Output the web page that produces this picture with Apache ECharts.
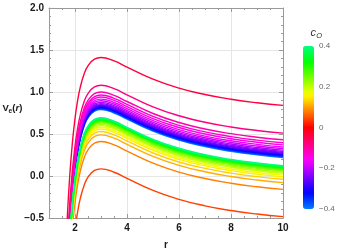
<!DOCTYPE html>
<html><head><meta charset="utf-8">
<script src="https://cdn.jsdelivr.net/npm/echarts@6/dist/echarts.min.js"></script>
<style>html,body{margin:0;padding:0;background:#fff}#c{width:339px;height:252px}</style>
</head><body><div id="c"></div>
<script>
// radial coordinate samples
const rValues = [1.6,1.7,1.8,1.9,2.0,2.1,2.2,2.35,2.5,2.75,3.0,3.5,4,5,6,7,8,9,10];
// c_O of each curve
const cValues = [-0.40,-0.37,-0.35,-0.33,-0.31,-0.29,-0.27,-0.25,-0.23,-0.21,-0.19,-0.17,-0.15,-0.13,-0.11,-0.08,-0.04,
                  0.04, 0.08, 0.11, 0.13, 0.15, 0.17, 0.19, 0.21, 0.23, 0.25, 0.27, 0.29, 0.31, 0.33, 0.35, 0.37, 0.40];
// V_e(r) (same order as cValues)
const vCurves = [
 [-1.850,-1.133,-0.608,-0.222,0.064,0.276,0.432,0.593,0.691,0.771,0.790,0.750,0.677,0.534,0.427,0.350,0.294,0.252,0.221],
 [-1.842,-1.125,-0.600,-0.214,0.072,0.284,0.440,0.601,0.699,0.779,0.798,0.758,0.685,0.542,0.435,0.358,0.302,0.260,0.229],
 [-1.834,-1.117,-0.592,-0.206,0.080,0.292,0.448,0.609,0.707,0.787,0.806,0.766,0.693,0.550,0.443,0.366,0.310,0.268,0.237],
 [-1.826,-1.109,-0.584,-0.198,0.088,0.300,0.456,0.617,0.715,0.795,0.814,0.774,0.701,0.558,0.451,0.374,0.318,0.276,0.245],
 [-1.818,-1.101,-0.576,-0.190,0.096,0.308,0.464,0.625,0.723,0.803,0.822,0.782,0.709,0.566,0.459,0.382,0.326,0.284,0.253],
 [-1.810,-1.093,-0.568,-0.182,0.104,0.316,0.472,0.633,0.731,0.811,0.830,0.790,0.717,0.574,0.467,0.390,0.334,0.292,0.261],
 [-1.800,-1.083,-0.558,-0.172,0.114,0.326,0.482,0.643,0.741,0.821,0.840,0.800,0.727,0.584,0.477,0.400,0.344,0.302,0.271],
 [-1.790,-1.073,-0.548,-0.162,0.124,0.336,0.492,0.653,0.751,0.831,0.850,0.810,0.737,0.594,0.487,0.410,0.354,0.312,0.281],
 [-1.778,-1.061,-0.536,-0.150,0.136,0.348,0.504,0.665,0.763,0.843,0.862,0.822,0.749,0.606,0.499,0.422,0.366,0.324,0.293],
 [-1.763,-1.046,-0.521,-0.135,0.151,0.363,0.519,0.680,0.778,0.858,0.877,0.837,0.764,0.621,0.514,0.437,0.381,0.339,0.308],
 [-1.745,-1.028,-0.503,-0.117,0.169,0.381,0.537,0.698,0.796,0.876,0.895,0.855,0.782,0.639,0.532,0.455,0.399,0.357,0.326],
 [-1.725,-1.008,-0.483,-0.097,0.189,0.401,0.557,0.718,0.816,0.896,0.915,0.875,0.802,0.659,0.552,0.475,0.419,0.377,0.346],
 [-1.700,-0.983,-0.458,-0.072,0.214,0.426,0.582,0.743,0.841,0.921,0.940,0.900,0.827,0.684,0.577,0.500,0.444,0.402,0.371],
 [-1.675,-0.958,-0.433,-0.047,0.239,0.451,0.607,0.768,0.866,0.946,0.965,0.925,0.852,0.709,0.602,0.525,0.469,0.427,0.396],
 [-1.640,-0.923,-0.398,-0.012,0.274,0.486,0.642,0.803,0.901,0.981,1.000,0.960,0.887,0.744,0.637,0.560,0.504,0.462,0.431],
 [-1.560,-0.843,-0.318,0.068,0.354,0.566,0.722,0.883,0.981,1.061,1.080,1.040,0.967,0.824,0.717,0.640,0.584,0.542,0.511],
 [-1.230,-0.513,0.012,0.398,0.684,0.896,1.052,1.213,1.311,1.391,1.410,1.370,1.297,1.154,1.047,0.970,0.914,0.872,0.841],
 [-2.555,-1.838,-1.313,-0.927,-0.641,-0.429,-0.273,-0.112,-0.014,0.066,0.085,0.045,-0.028,-0.171,-0.278,-0.355,-0.411,-0.453,-0.484],
 [-2.230,-1.513,-0.988,-0.602,-0.316,-0.104,0.052,0.213,0.311,0.391,0.410,0.370,0.297,0.154,0.047,-0.030,-0.086,-0.128,-0.159],
 [-2.150,-1.433,-0.908,-0.522,-0.236,-0.024,0.132,0.293,0.391,0.471,0.490,0.450,0.377,0.234,0.127,0.050,-0.006,-0.048,-0.079],
 [-2.110,-1.393,-0.868,-0.482,-0.196,0.016,0.172,0.333,0.431,0.511,0.530,0.490,0.417,0.274,0.167,0.090,0.034,-0.008,-0.039],
 [-2.080,-1.363,-0.838,-0.452,-0.166,0.046,0.202,0.363,0.461,0.541,0.560,0.520,0.447,0.304,0.197,0.120,0.064,0.022,-0.009],
 [-2.060,-1.343,-0.818,-0.432,-0.146,0.066,0.222,0.383,0.481,0.561,0.580,0.540,0.467,0.324,0.217,0.140,0.084,0.042,0.011],
 [-2.040,-1.323,-0.798,-0.412,-0.126,0.086,0.242,0.403,0.501,0.581,0.600,0.560,0.487,0.344,0.237,0.160,0.104,0.062,0.031],
 [-2.025,-1.308,-0.783,-0.397,-0.111,0.101,0.257,0.418,0.516,0.596,0.615,0.575,0.502,0.359,0.252,0.175,0.119,0.077,0.046],
 [-2.010,-1.293,-0.768,-0.382,-0.096,0.116,0.272,0.433,0.531,0.611,0.630,0.590,0.517,0.374,0.267,0.190,0.134,0.092,0.061],
 [-1.998,-1.281,-0.756,-0.370,-0.084,0.128,0.284,0.445,0.543,0.623,0.642,0.602,0.529,0.386,0.279,0.202,0.146,0.104,0.073],
 [-1.988,-1.271,-0.746,-0.360,-0.074,0.138,0.294,0.455,0.553,0.633,0.652,0.612,0.539,0.396,0.289,0.212,0.156,0.114,0.083],
 [-1.979,-1.262,-0.737,-0.351,-0.065,0.147,0.303,0.464,0.562,0.642,0.661,0.621,0.548,0.405,0.298,0.221,0.165,0.123,0.092],
 [-1.971,-1.254,-0.729,-0.343,-0.057,0.155,0.311,0.472,0.570,0.650,0.669,0.629,0.556,0.413,0.306,0.229,0.173,0.131,0.100],
 [-1.964,-1.247,-0.722,-0.336,-0.050,0.162,0.318,0.479,0.577,0.657,0.676,0.636,0.563,0.420,0.313,0.236,0.180,0.138,0.107],
 [-1.958,-1.241,-0.716,-0.330,-0.044,0.168,0.324,0.485,0.583,0.663,0.682,0.642,0.569,0.426,0.319,0.242,0.186,0.144,0.113],
 [-1.953,-1.236,-0.711,-0.325,-0.039,0.173,0.329,0.490,0.588,0.668,0.687,0.647,0.574,0.431,0.324,0.247,0.191,0.149,0.118],
 [-1.947,-1.230,-0.705,-0.319,-0.033,0.179,0.335,0.496,0.594,0.674,0.693,0.653,0.580,0.437,0.330,0.253,0.197,0.155,0.124]
];
const xTickLabels = [2,4,6,8,10];
const yTickLabels = [-0.5,0,0.5,1,1.5,2];
const cbarTickLabels = [-0.4,-0.2,0,0.2,0.4];

const FONT = 'Liberation Sans';
function hueColor(c){
  const h = ((c*375)%360+360)%360;
  const f = n => { const k=(n+h/60)%6; return Math.round(255*(1-Math.max(0,Math.min(k,4-k,1)))); };
  return 'rgb('+f(5)+','+f(3)+','+f(1)+')';
}
const cmap = [];
for (let i=0;i<=32;i++) cmap.push(hueColor(-0.4+0.8*i/32));
const fmtMinus = v => { const s = (Math.abs(v)<1e-9)?'0':String(+v.toFixed(2)); return s.replace('-','\u2212'); };
const frame = '#9a9a9a';

const series = cValues.map((c,i)=>({
  type:'line', xAxisIndex:0, yAxisIndex:0, showSymbol:false, smooth:0.5, silent:true,
  clip:true, data: rValues.map((r,j)=>[r, vCurves[i][j]]),
  lineStyle:{color:hueColor(c), width:1.4}, itemStyle:{color:hueColor(c)}, z:3
}));
series.push({type:'scatter', xAxisIndex:4, yAxisIndex:2, data:[], silent:true});

const chart = echarts.init(document.getElementById('c'), null, {renderer:'canvas'});
chart.setOption({
  animation:false,
  backgroundColor:'#fff',
  grid:[{left:49, top:8, right:56, bottom:34},
        {left:303, top:46, width:11, height:163}],
  xAxis:[
    {gridIndex:0, type:'value', min:1, max:10, interval:0.5, position:'bottom',
     axisLine:{show:true, onZero:false, lineStyle:{color:frame}},
     axisTick:{show:true, inside:true, length:4, customValues:xTickLabels, lineStyle:{color:frame}},
     axisLabel:{customValues:xTickLabels, color:'#1a1a1a', fontWeight:'bold', fontSize:10, fontFamily:FONT, margin:5},
     splitLine:{show:true, lineStyle:{color:'#e6e6e6'}}},
    {gridIndex:0, type:'value', min:1, max:10, interval:0.5, position:'bottom',
     axisLine:{show:false, onZero:false}, axisTick:{show:true, inside:true, length:2, lineStyle:{color:frame}},
     axisLabel:{show:false}, splitLine:{show:false}},
    {gridIndex:0, type:'value', min:1, max:10, interval:0.5, position:'top',
     axisLine:{show:true, onZero:false, lineStyle:{color:frame}},
     axisTick:{show:true, inside:true, length:4, customValues:xTickLabels, lineStyle:{color:frame}},
     axisLabel:{show:false}, splitLine:{show:false}},
    {gridIndex:0, type:'value', min:1, max:10, interval:0.5, position:'top',
     axisLine:{show:false, onZero:false}, axisTick:{show:true, inside:true, length:2, lineStyle:{color:frame}},
     axisLabel:{show:false}, splitLine:{show:false}},
    {gridIndex:1, type:'value', min:0, max:1, show:false}
  ],
  yAxis:[
    {gridIndex:0, type:'value', min:-0.5, max:2, interval:0.5, position:'left',
     axisLine:{show:true, onZero:false, lineStyle:{color:frame}},
     axisTick:{show:true, inside:true, length:4, lineStyle:{color:frame}},
     minorTick:{show:true, splitNumber:5, length:2, lineStyle:{color:frame}},
     axisLabel:{color:'#1a1a1a', fontWeight:'bold', fontSize:10, fontFamily:FONT, margin:5,
       formatter:v=>v.toFixed(1).replace('-','\u2212')},
     splitLine:{show:true, lineStyle:{color:'#e6e6e6'}}},
    {gridIndex:0, type:'value', min:-0.5, max:2, interval:0.5, position:'right',
     axisLine:{show:true, onZero:false, lineStyle:{color:frame}},
     axisTick:{show:true, inside:true, length:4, lineStyle:{color:frame}},
     minorTick:{show:true, splitNumber:5, length:2, lineStyle:{color:frame}},
     axisLabel:{show:false}, splitLine:{show:false}},
    {gridIndex:1, type:'value', min:-0.4, max:0.4, interval:0.2, position:'right',
     axisLine:{show:false, onZero:false}, axisTick:{show:false},
     axisLabel:{color:'#666', fontSize:8, fontFamily:FONT, margin:5, formatter:fmtMinus},
     splitLine:{show:false}}
  ],
  visualMap:{type:'continuous', min:-0.4, max:0.4, orient:'vertical', left:303, top:46,
    itemWidth:11, itemHeight:163, padding:0, calculable:false, hoverLink:false, realtime:false,
    seriesIndex:[cValues.length], inRange:{color:cmap}, text:null},
  graphic:[
    {type:'text', x:166, y:245, style:{text:'r', font:'bold 10px '+FONT, fill:'#1a1a1a', textAlign:'center', textVerticalAlign:'middle'}},
    {type:'text', x:2.5, y:108, style:{text:'V', font:'bold 9.5px '+FONT, fill:'#1a1a1a', textVerticalAlign:'middle'}},
    {type:'text', x:8.6, y:111.5, style:{text:'e', font:'bold 6.5px '+FONT, fill:'#1a1a1a', textVerticalAlign:'middle'}},
    {type:'text', x:12.3, y:108, style:{text:'{p|(}{i|r}{p|)}', rich:{p:{font:'bold 9.5px '+FONT, fill:'#1a1a1a'}, i:{font:'italic bold 9.5px '+FONT, fill:'#1a1a1a'}}, textVerticalAlign:'middle'}},
    {type:'text', x:310.5, y:33, style:{text:'c', font:'italic 11px '+FONT, fill:'#333', textVerticalAlign:'middle'}},
    {type:'text', x:316.3, y:36, style:{text:'O', font:'italic 7.5px '+FONT, fill:'#333', textVerticalAlign:'middle'}}
  ],
  series: series
});
</script></body></html>
